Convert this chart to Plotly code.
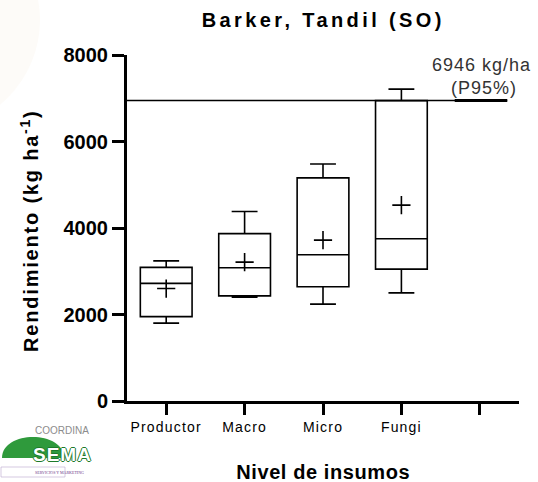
import plotly.graph_objects as go

# Yield by input level (kg/ha): five-number summaries plus means
categories = ["Productor", "Macro", "Micro", "Fungi"]
tick_labels = ["Productor", "Macro", "Micro", "Fungi", ""]
whisker_low = [1800, 2400, 2240, 2500]
q1 = [1950, 2430, 2640, 3050]
median = [2720, 3080, 3380, 3750]
q3 = [3090, 3870, 5160, 6946]
whisker_high = [3240, 4380, 5480, 7210]
means = [2600, 3210, 3720, 4530]
p95 = 6946

positions = list(range(len(categories)))

W, H = 538, 482
ML, MR, MT, MB = 127, 19, 55, 81
PW, PH = W - ML - MR, H - MT - MB


def px(xp):
    return (xp - ML) / PW


def py(yp):
    return (H - MB - yp) / PH


fig = go.Figure()

fig.add_trace(go.Box(
    x=positions,
    q1=q1, median=median, q3=q3,
    lowerfence=whisker_low, upperfence=whisker_high,
    width=0.66, whiskerwidth=0.5,
    fillcolor="rgba(255,255,255,0)",
    line=dict(color="black", width=1.6),
    boxpoints=False, hoverinfo="skip", showlegend=False,
))

fig.add_trace(go.Scatter(
    x=positions, y=means, mode="markers",
    marker=dict(symbol="cross-thin", size=13, line=dict(color="black", width=1.6)),
    hoverinfo="skip", showlegend=False,
))

# faint watermark disc in the upper-left corner
fig.add_shape(type="circle", xref="paper", yref="paper",
              x0=px(-180), x1=px(40), y0=py(130), y1=py(-90),
              fillcolor="rgba(238,225,195,0.12)", line=dict(width=0), layer="below")

# P95 reference line
fig.add_shape(type="line", xref="x", yref="y", x0=-0.5, x1=4.35, y0=p95, y1=p95,
              line=dict(color="black", width=1.5), layer="below")
fig.add_shape(type="line", xref="x", yref="y", x0=3.68, x1=4.35, y0=p95, y1=p95,
              line=dict(color="black", width=3))

# logo: green dome with lettering
dome = "M {a},{b} C {a},{c} {d},{c} {d},{b} Z".format(
    a=px(2), b=py(458), c=py(430), d=px(64))
fig.add_shape(type="path", xref="paper", yref="paper", path=dome,
              fillcolor="#2f9a3c", line=dict(width=0))
fig.add_shape(type="rect", xref="paper", yref="paper",
              x0=px(1), x1=px(65), y0=py(477), y1=py(467),
              fillcolor="white", line=dict(color="#b9a6cc", width=0.6))

spacing = {}


def note(text, letter_spacing=None, **kw):
    fig.add_annotation(text=text, showarrow=False, **kw)
    if letter_spacing:
        spacing[len(fig.layout.annotations) - 1] = letter_spacing


note("<b>Barker, Tandil (SO)</b>", "3.4px", xref="paper", yref="paper",
     x=px(323), y=py(20), yanchor="middle",
     font=dict(family="Liberation Sans", size=20, color="black"))
note(f"{p95} kg/ha", "1px", xref="x", yref="paper", x=3.43, y=py(65),
     xanchor="left", yanchor="middle",
     font=dict(family="Liberation Sans", size=18, color="#333"))
note("(P95%)", "1px", xref="x", yref="paper", x=4.05, y=py(88), yanchor="middle",
     font=dict(family="Liberation Sans", size=18, color="#333"))
note("<b>Nivel de insumos</b>", "0.6px", xref="paper", yref="paper",
     x=px(323), y=py(472), yanchor="middle",
     font=dict(family="Liberation Sans", size=20, color="black"))
note("<b>Rendimiento (kg ha<sup>-1</sup>)</b>", "1.8px", xref="paper", yref="paper",
     x=px(29), y=py(231), textangle=-90, xanchor="center", yanchor="middle",
     font=dict(family="Liberation Sans", size=20, color="black"))
note("COORDINA", None, xref="paper", yref="paper", x=px(33), y=py(431),
     yanchor="middle", font=dict(family="Liberation Sans", size=10, color="#8c8c8c"))
note("<b>SEMA</b>", "1px", xref="paper", yref="paper", x=px(33), y=py(454),
     yanchor="middle",
     font=dict(family="Liberation Sans", size=19, color="white",
               shadow="1px 0 0 #1d7a2a, -1px 0 0 #1d7a2a, 0 1px 0 #1d7a2a, 0 -1px 0 #1d7a2a"))
note("SERVICIOS Y MARKETING", None, xref="paper", yref="paper", x=px(33), y=py(472),
     yanchor="middle", font=dict(family="Liberation Serif", size=4, color="#6b3a8a"))

fig.update_layout(
    width=W, height=H,
    margin=dict(l=ML, r=MR, t=MT, b=MB),
    paper_bgcolor="white", plot_bgcolor="rgba(0,0,0,0)",
    font=dict(family="Liberation Sans", color="black"),
    xaxis=dict(
        range=[-0.5, 4.5], tickmode="array", tickvals=list(range(len(tick_labels))),
        ticktext=tick_labels, showgrid=False, zeroline=False,
        showline=True, linecolor="black", linewidth=3,
        ticks="outside", ticklen=11, tickwidth=3, tickcolor="black",
        tickfont=dict(size=14, color="black"),
    ),
    yaxis=dict(
        range=[0, 8000], tickmode="array", tickvals=[0, 2000, 4000, 6000, 8000],
        showgrid=False, zeroline=False,
        showline=True, linecolor="black", linewidth=3,
        ticks="outside", ticklen=12, tickwidth=3, tickcolor="black",
        tickfont=dict(size=20, weight="bold", color="black"),
    ),
)

# widen character spacing of the labels after the plot is drawn
js_parts = ["var gd = document.getElementById('{plot_id}');",
            "function sp(sel, v) { gd.querySelectorAll(sel).forEach(function (e) { e.style.letterSpacing = v; }); }",
            "sp('.xtick text', '1.2px');"]
for idx, val in spacing.items():
    js_parts.append("sp('g.annotation[data-index=\"%d\"] text', '%s');" % (idx, val))
post_script = "\n".join(js_parts)

fig.write_html("out.html", post_script=post_script)
